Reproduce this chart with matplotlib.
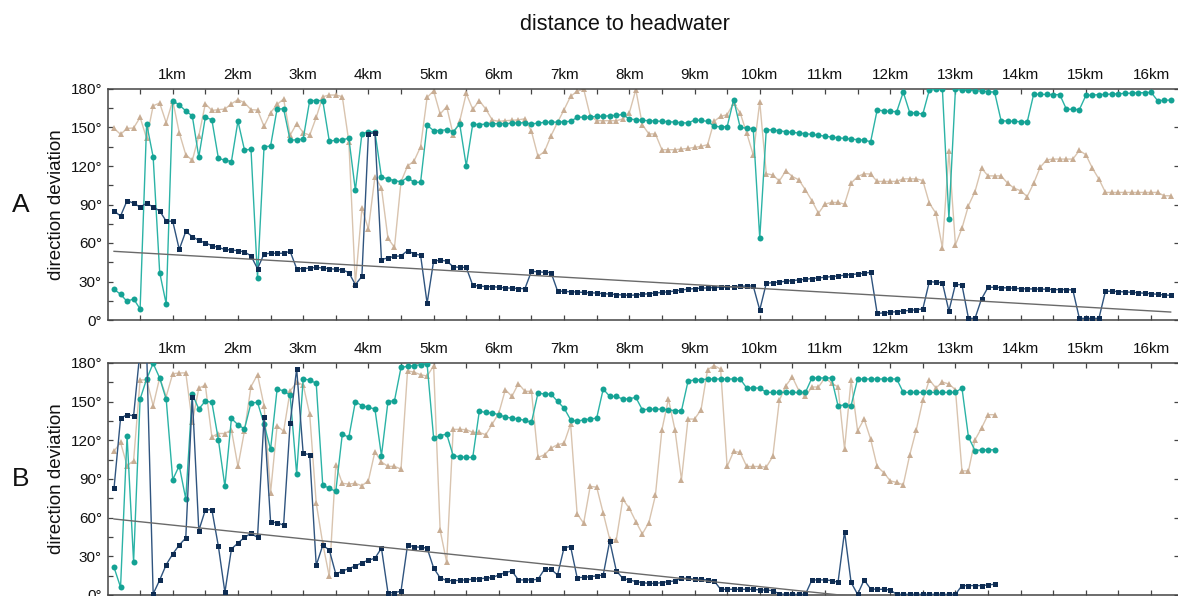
import matplotlib.pyplot as plt
import numpy as np

plt.rcParams['font.family'] = ['Liberation Sans', 'DejaVu Sans']

# ----------------------------
# data: direction deviation every 0.1 km
# ----------------------------

step_km = 0.1

a_navy = [85, 81, 93, 91, 88, 91, 88, 85, 77, 77,
          55, 69, 65, 62, 60, 58, 56.5, 55, 54.5, 54,
          53, 50, 40, 51.5, 52, 52, 52, 53.5, 40, 40,
          40.5, 41, 40.5, 40, 39.5, 39, 37, 27.5, 34, 145,
          146, 47, 48.5, 49.5, 50, 54, 51.5, 50.5, 13, 46,
          46.5, 46, 41.5, 41, 41, 27, 26.5, 26, 26, 25.5,
          25, 24.8, 24.5, 24.5, 38, 37.5, 37.2, 37, 22.6, 22.3,
          22, 21.8, 21.5, 21.2, 21, 20.5, 20.2, 19.8, 19.5, 19.2,
          19.5, 20, 20.5, 21, 21.5, 22, 22.6, 23.4, 24, 24.5,
          24.8, 25, 25.3, 25.5, 25.8, 26, 26.3, 26.5, 26.5, 7.8,
          28.6, 29.1, 29.6, 30.2, 30.7, 31.2, 31.7, 32.3, 32.8, 33.3,
          33.8, 34.3, 34.9, 35.4, 35.9, 36.4, 37.2, 5.2, 5.5, 6,
          6.5, 7, 7.5, 8, 8.6, 30, 29.4, 29.1, 7, 27.8,
          27.3, 1.3, 1.3, 16.4, 25.5, 25.5, 25.2, 25, 24.7, 24.4,
          24.2, 24.2, 24, 24, 23.7, 23.7, 23.7, 23.4, 1.3, 1.3,
          1.3, 1.3, 22.4, 22.4, 22.1, 21.9, 21.6, 21.3, 20.8, 20.5,
          20, 19.5, 19.2]

a_teal = [24, 20, 14.5, 16.5, 8.6, 153, 127, 37, 12.5, 171,
          167.5, 163, 159, 127, 158, 156, 126, 124.5, 123.5, 155,
          132.5, 133, 33, 135, 135.5, 164.5, 164.5, 140, 140.5, 141,
          171, 171, 171, 139.5, 140, 140.2, 141.8, 101, 145, 146.5,
          146.7, 111.4, 110, 108.5, 107.8, 111, 107.3, 107.3, 151.7, 147.6,
          147.6, 148.3, 146.7, 152.7, 120.2, 152.7, 152.2, 152.7, 153, 153,
          153, 153.3, 153.5, 153.8, 152.7, 153.5, 154, 154.2, 154.2, 154.5,
          154.8, 157.9, 158.2, 158.2, 158.7, 158.7, 159.2, 159.4, 160.2, 156.6,
          156.1, 155.6, 155.3, 155.1, 154.8, 154.5, 154.2, 153.7, 153.5, 155.8,
          155.5, 154.8, 150.9, 150.6, 150.6, 171.7, 150, 149.5, 149, 63.7,
          148.3, 148, 147.5, 146.7, 146.2, 145.7, 145.2, 144.6, 143.9, 143.3,
          142.5, 142, 141.5, 141, 140.5, 140.2, 138.9, 163.6, 163, 162.6,
          162.3, 177.6, 161.5, 161.3, 160.5, 179.2, 179.7, 180, 79, 179.7,
          179.2, 178.9, 178.7, 178.4, 177.9, 177.6, 155.3, 155, 154.8, 154.5,
          154.2, 176, 175.8, 175.8, 175.6, 175.6, 164.4, 164.1, 163.9, 175,
          175.3, 175.6, 175.8, 176.1, 176.3, 176.6, 176.8, 177.1, 177.1, 177.4,
          170.9, 171.2, 171.4]

a_tan = [149.3, 144.7, 149.3, 149.6, 157.9, 141.5, 167, 169, 153.7, 171,
         146, 128.8, 124.4, 143.4, 168.5, 163.3, 163.9, 164.4, 168.5, 171.7,
         169.3, 163.9, 163.6, 150.9, 161.5, 168, 172.2, 144, 153, 146,
         144, 157.9, 174, 175.3, 175.3, 174, 139, 28, 87, 70.9,
         111.7, 103, 63.6, 56.6, 107.8, 120, 123.9, 135, 173.5, 178.5,
         160.5, 166.2, 144.5, 155, 176.5, 164.2, 171, 164.3, 155.8, 154.8,
         155.3, 155.6, 156, 156.8, 147, 127.5, 131.3, 143.6, 154, 163.9,
         174.3, 178.2, 180, 159.2, 155.3, 155.3, 155.3, 155.3, 156.6, 161.3,
         179.5, 152.2, 145, 145, 132.7, 132.7, 132.7, 133.2, 133.7, 134.5,
         135.3, 136.6, 154.8, 158.7, 160, 169, 161.3, 145.7, 128.7, 169.9,
         114, 113, 108.3, 116.3, 111.8, 109.2, 101.4, 92.9, 83.2, 90.3,
         91.6, 91.6, 90.3, 106.6, 111.8, 114, 113.7, 108, 108, 108,
         108, 110, 110, 110, 108.7, 91, 83.2, 56.4, 131.3, 58.5,
         71.5, 89.2, 100.1, 118.3, 112.3, 112.3, 112.3, 106.6, 102.7, 100.7,
         96.2, 106.6, 119.1, 124.8, 125.4, 125.4, 125.4, 125.4, 132.1, 128.8,
         118.3, 109.8, 99.4, 99.4, 99.4, 99.4, 99.4, 99.4, 99.4, 99.4,
         99.4, 96.8, 96.8]

b_navy = [82.8, 137, 140, 139, 190, 190, 0.8, 11.6, 23.5, 31.8,
          38.8, 44.2, 154, 50, 66, 66.2, 37.8, 2, 35.7, 40.3,
          44.7, 47.8, 44.7, 137.8, 56.9, 55.9, 54.3, 133.4, 175.6, 109.8,
          109, 23, 38.5, 35, 16.3, 18.5, 20.5, 22.5, 25, 27,
          28.5, 36.4, 1.8, 1.8, 3, 38.8, 37.5, 37, 36.4, 21,
          13.3, 11.3, 11.1, 11.4, 11.8, 12.2, 12.7, 13, 13.6, 15.5,
          17.4, 18.6, 11.7, 11.7, 11.7, 12.2, 20, 20, 15.5, 36.8,
          37.6, 13.5, 13.7, 14.2, 14.8, 15.5, 42, 18.9, 12.9, 11.7,
          10.4, 9.6, 9, 9, 9.6, 10.4, 10.9, 13, 13, 12.2,
          12.2, 11.7, 11, 4.4, 4.4, 4.4, 4.4, 4.4, 4.4, 3.9,
          3.9, 3.4, 0.8, 0.5, 0.5, 0.5, 0.5, 11.7, 11.7, 11.7,
          11.2, 9.8, 49.2, 9.8, 0.5, 11.7, 4.7, 4.4, 4.4, 3.9,
          0.5, 0.5, 0.5, 0.5, 0.5, 0.5, 0.5, 0.5, 0.5, 0.5,
          7.3, 7.3, 7.3, 7.3, 7.8, 8.3]

b_teal = [21.5, 6, 123.6, 25.6, 152, 167.6, 179.7, 168.4, 151.8, 89.5,
          100.3, 74.5, 155.9, 144.3, 150.5, 149.5, 120.5, 84.3, 137, 132.1,
          128.8, 149, 149.5, 132.7, 113, 159.6, 158.5, 154.9, 93.9, 167.6,
          166.8, 164.2, 85.3, 82.8, 80.4, 124.9, 122.3, 150, 146.9, 145.6,
          144.3, 108.1, 150, 150.8, 176.6, 177.4, 177.9, 178.7, 179.2, 121.8,
          123.6, 124.9, 108.1, 107.3, 106.8, 106.8, 142.5, 141.7, 141.2, 139.9,
          138, 137.3, 136.5, 135.5, 133.9, 156.7, 155.9, 155.9, 150.2, 145,
          136, 134.7, 136, 136.5, 137.3, 159.8, 154.1, 154.1, 152, 152.3,
          153.3, 143.7, 144.2, 144.2, 144.2, 143.7, 143, 143, 165.8, 167,
          167, 167.6, 167.6, 167.6, 167.6, 167.6, 167.6, 160.6, 160.6, 160.6,
          157.2, 157.2, 157.2, 157.2, 157.2, 157.2, 157.2, 168.4, 168.4, 168.4,
          168.4, 146.8, 147.5, 146.8, 167.6, 167.6, 167.6, 167.6, 167.6, 167.6,
          167.6, 157.2, 157.2, 157.2, 157.2, 157.2, 157.2, 157.2, 157.2, 157.2,
          160.6, 122.5, 112.1, 112.6, 112.6, 112.7]

b_tan = [111.5, 118.4, 100.3, 104.2, 166.8, 167, 146.9, 168.6, 154, 171.7,
         172.2, 172.4, 134, 160.6, 162.7, 122.7, 125.3, 125.3, 128.1, 99.8,
         127.3, 161.7, 171, 146.9, 79.3, 131.4, 127, 158.3, 165, 163,
         140.4, 71.3, 40, 14.4, 101, 86.6, 86.1, 86.6, 84.8, 88.7,
         111.2, 103.2, 99.8, 99.8, 97.7, 173.9, 172.9, 170.9, 169.9, 177.7,
         50.2, 25.4, 128.5, 128.5, 128.3, 126.2, 126.1, 124.4, 132.7, 141.2,
         159.3, 154.1, 164, 158, 158, 106.7, 108.8, 114, 116.6, 117.8,
         132.6, 63, 55.7, 84.2, 83.7, 63.5, 43.3, 42.7, 74.3, 67.3,
         57, 47.4, 56.2, 77.2, 128.2, 152, 128.2, 89.4, 136.5, 136.5,
         143.7, 174.8, 178, 175.3, 99.7, 111.4, 110.6, 99.7, 99.7, 99.7,
         99.2, 107.5, 151, 162.4, 169.1, 158.5, 154.1, 161.4, 161.4, 168.4,
         164.5, 161.4, 113.2, 167, 127.4, 136.5, 120.9, 99.7, 95, 88.6,
         87.3, 85.5, 108.8, 128.2, 151, 167, 160.6, 165.2, 163.7, 159.3,
         96.3, 96.3, 120.4, 129.5, 139.9, 139.9]

# trend lines: (value at 0 km, change per km)
trend_a = (53.8, -2.92)
trend_b = (59.5, -5.3)

km_ticks = list(range(1, 17))
km_labels = [f"{k}km" for k in km_ticks]
deg_ticks = [0, 30, 60, 90, 120, 150, 180]
deg_labels = [f"{d}°" for d in deg_ticks]

# ----------------------------
# styles
# ----------------------------

navy_line, navy_mark = '#2f547f', '#0e2c52'
teal_line, teal_mark = '#2bb3a6', '#14a294'
tan_line, tan_mark = '#d9c4af', '#c8ad94'
frame = '#444444'

x_max = 16.42


def draw_panel(ax, navy, teal, tan, trend, letter):
    xn = np.arange(1, len(navy) + 1) * step_km
    xt = np.arange(1, len(teal) + 1) * step_km
    xa = np.arange(1, len(tan) + 1) * step_km

    ax.plot(xa, tan, '-', color=tan_line, lw=1.0, marker='^', ms=5,
            mfc=tan_mark, mec=tan_mark, mew=0, zorder=2)
    ax.plot(xt, teal, '-', color=teal_line, lw=1.0, marker='o', ms=4.3,
            mfc=teal_mark, mec=teal_mark, mew=0, zorder=3)
    ax.plot(xn, navy, '-', color=navy_line, lw=1.0, marker='s', ms=3.6,
            mfc=navy_mark, mec=navy_mark, mew=0, zorder=4)

    xl = np.array([step_km, xn[-1]])
    ax.plot(xl, trend[0] + trend[1] * xl, '-', color='#6a6a6a', lw=1.0, zorder=5)

    ax.set_xlim(0, x_max)
    ax.set_ylim(0, 180)

    ax.set_yticks(deg_ticks)
    ax.set_yticklabels(deg_labels)
    ax.set_yticks(np.arange(15, 180, 30), minor=True)
    ax.set_xticks(km_ticks)
    ax.set_xticklabels(km_labels)
    ax.set_xticks(np.arange(0.5, 16.5, 1.0), minor=True)

    ax.tick_params(axis='x', which='both', direction='in', top=True, bottom=True,
                   labeltop=True, labelbottom=False, length=3.5, width=0.9,
                   colors=frame, labelcolor='#111111', labelsize=11, pad=5)
    ax.tick_params(axis='y', which='both', direction='in', left=True, right=True,
                   length=3.5, width=0.9, colors=frame, labelcolor='#111111',
                   labelsize=11, pad=4)
    ax.tick_params(axis='y', which='minor', right=False)

    for s in ax.spines.values():
        s.set_color(frame)
        s.set_linewidth(1.1)

    ax.set_ylabel("direction deviation", fontsize=13.5, labelpad=4, color='#111111')
    ax.text(-0.081, 0.5, letter, transform=ax.transAxes, fontsize=19,
            ha='center', va='center', color='#111111')


fig = plt.figure(figsize=(11.78, 5.96), dpi=100)

ax_a = fig.add_axes([107.5 / 1178, 1 - 320 / 596, 1071 / 1178, 231 / 596])
ax_b = fig.add_axes([107.5 / 1178, 1 - 595 / 596, 1071 / 1178, 232 / 596])

draw_panel(ax_a, a_navy, a_teal, a_tan, trend_a, "A")
draw_panel(ax_b, b_navy, b_teal, b_tan, trend_b, "B")

fig.text(625 / 1178, 1 - 25 / 596, "distance to headwater", fontsize=15.5,
         ha='center', va='center', color='#111111')

fig.savefig("out.png", dpi=100)
